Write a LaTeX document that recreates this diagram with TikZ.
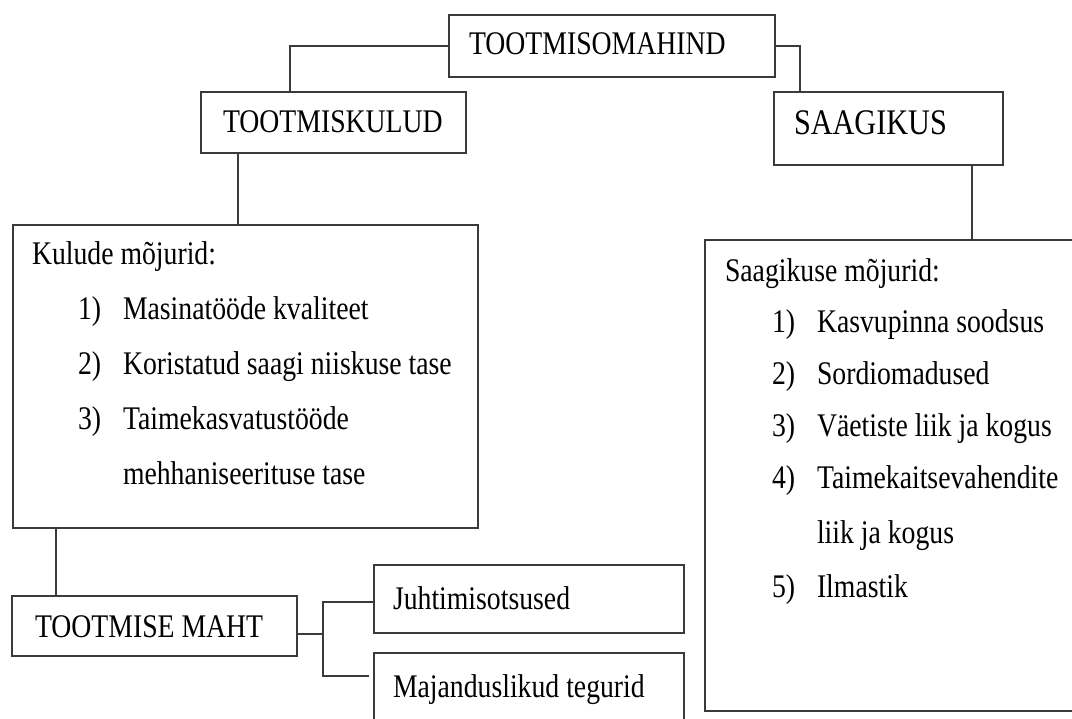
\documentclass[tikz,border=0pt]{standalone}
\usepackage{fontspec}
\setmainfont{Liberation Serif}[FakeStretch=0.84]
\usetikzlibrary{calc}
\definecolor{ln}{HTML}{3A3A3A}
\begin{document}
\begin{tikzpicture}[x=1pt,y=-1pt,
  box/.style={draw=ln, line width=2.4pt, fill=none, inner sep=0pt, outer sep=0pt, anchor=north west},
  txt/.style={inner sep=0pt, outer sep=0pt, anchor=base west, font=\fontsize{33}{36}\selectfont, text=black},
  con/.style={draw=ln, line width=2.4pt}]
\useasboundingbox (0,0) rectangle (1072,719);
\clip (0,0) rectangle (1072,719);
\fill[white] (0,0) rectangle (1072,719);
% boxes
\node[box, minimum width=326pt, minimum height=62pt] (tm) at (449,15) {};
\node[box, minimum width=265pt, minimum height=61pt] (tk) at (201,92) {};
\node[box, minimum width=229pt, minimum height=73pt] (sk) at (774,92) {};
\node[box, minimum width=465pt, minimum height=303pt] (kul) at (13,225) {};
\node[box, minimum width=385pt, minimum height=471pt] (rb) at (705,240) {};
\node[box, minimum width=285pt, minimum height=60pt] (tmaht) at (12,596) {};
\node[box, minimum width=310pt, minimum height=68pt] (juht) at (374,565) {};
\node[box, minimum width=310pt, minimum height=90pt] (maj) at (374,653) {};
% texts
\node[txt] (tmL) at (469,55) {TOOTMISOMAHIND};
\node[txt] (tkL) at (223,133) {TOOTMISKULUD};
\node[txt, font=\fontsize{36}{38}\selectfont] (skL) at (794,135) {SAAGIKUS};
\node[txt] (kulH) at (32,265) {Kulude mõjurid:};
\node[txt] (k1n) at (78,320) {1)};
\node[txt] (k1) at (123,320) {Masinatööde kvaliteet};
\node[txt] (k2n) at (78,375) {2)};
\node[txt] (k2) at (123,375) {Koristatud saagi niiskuse tase};
\node[txt] (k3n) at (78,430) {3)};
\node[txt] (k3) at (123,430) {Taimekasvatustööde};
\node[txt] (k3b) at (123,485) {mehhaniseerituse tase};
\node[txt] (rbH) at (725,282) {Saagikuse mõjurid:};
\node[txt] (r1n) at (772,333) {1)};
\node[txt] (r1) at (817,333) {Kasvupinna soodsus};
\node[txt] (r2n) at (772,385) {2)};
\node[txt] (r2) at (817,385) {Sordiomadused};
\node[txt] (r3n) at (772,437) {3)};
\node[txt] (r3) at (817,437) {Väetiste liik ja kogus};
\node[txt] (r4n) at (772,489) {4)};
\node[txt] (r4) at (817,489) {Taimekaitsevahendite};
\node[txt] (r4b) at (817,543) {liik ja kogus};
\node[txt] (r5n) at (772,597) {5)};
\node[txt] (r5) at (817,597) {Ilmastik};
\node[txt] (tmahtL) at (35,637) {TOOTMISE MAHT};
\node[txt] (juhtL) at (393,609) {Juhtimisotsused};
\node[txt] (majL) at (393,697) {Majanduslikud tegurid};
% connectors
\coordinate (c1) at ($(tk.north west)+(89,0)$);
\draw[con] (tm.west) -| (c1);
\coordinate (c2) at ($(sk.north west)+(26,0)$);
\draw[con] (tm.east) -| (c2);
\coordinate (c3) at ($(tk.south west)+(37,0)$);
\draw[con] (c3) -- (c3 |- kul.north);
\coordinate (c4) at ($(sk.south east)+(-31,0)$);
\draw[con] (c4) -- (c4 |- rb.north);
\coordinate (c5) at ($(kul.south west)+(43,0)$);
\draw[con] (c5) -- (c5 |- tmaht.north);
\coordinate (m0) at ($(tmaht.east)+(0,8)$);
\coordinate (j0) at (323,634);
\coordinate (jt) at (323,602);
\coordinate (jb) at (323,676);
\draw[con] (m0) -- (j0);
\draw[con] (juht.west |- jt) -- (jt) -- (jb) -- ($(maj.west |- jb)+(-5,0)$);
\end{tikzpicture}
\end{document}
